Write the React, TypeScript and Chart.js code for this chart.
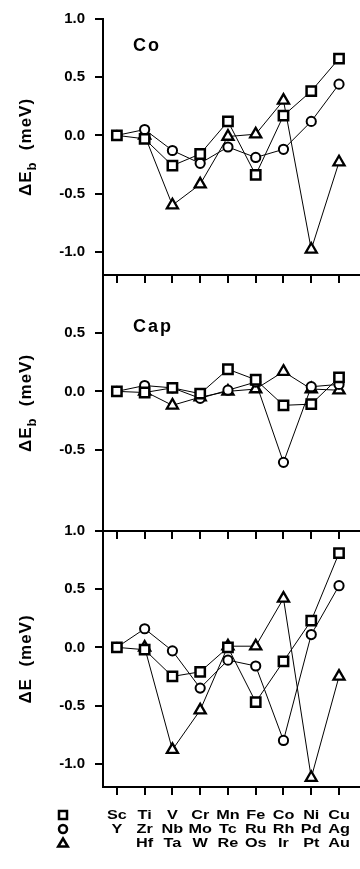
import React, { useEffect, useRef } from "react";
import { Chart, registerables } from "chart.js";
Chart.register(...registerables);

// categories (row 1 of the x labels) and the other two rows
const categories = ["Sc", "Ti", "V", "Cr", "Mn", "Fe", "Co", "Ni", "Cu"];
const row2Labels = ["Y", "Zr", "Nb", "Mo", "Tc", "Ru", "Rh", "Pd", "Ag"];
const row3Labels = ["", "Hf", "Ta", "W", "Re", "Os", "Ir", "Pt", "Au"];

// Panel 1: Co
const coSquare = [0, -0.03, -0.26, -0.16, 0.12, -0.34, 0.17, 0.38, 0.66];
const coCircle = [0, 0.05, -0.13, -0.24, -0.1, -0.19, -0.12, 0.12, 0.44];
const coTriangle = [null, 0.0, -0.6, -0.42, -0.01, 0.01, 0.3, -0.98, -0.23];

// Panel 2: Cap
const capSquare = [0, -0.01, 0.03, -0.02, 0.19, 0.1, -0.12, -0.11, 0.12];
const capCircle = [0, 0.05, 0.03, -0.06, 0.01, 0.08, -0.61, 0.04, 0.06];
const capTriangle = [null, 0.0, -0.12, -0.05, 0.0, 0.02, 0.17, 0.02, 0.01];

// Panel 3: total
const totSquare = [0, -0.02, -0.25, -0.21, 0.0, -0.47, -0.12, 0.23, 0.81];
const totCircle = [0, 0.16, -0.03, -0.35, -0.11, -0.16, -0.8, 0.11, 0.53];
const totTriangle = [null, 0.0, -0.88, -0.54, 0.01, 0.01, 0.42, -1.12, -0.25];

const yTicks1 = [-1, -0.5, 0, 0.5, 1];
const yTicks2 = [-0.5, 0, 0.5];
const yTicks3 = [-1, -0.5, 0, 0.5, 1];
const yMin = -1.2;
const yMax = 1.0;
const panelLabels = ["Co", "Cap", ""];
const panelTitles = [
  { main: "\u0394E", sub: "b", rest: "  (meV)" },
  { main: "\u0394E", sub: "b", rest: "  (meV)" },
  { main: "\u0394E", sub: "", rest: "  (meV)" },
];

const FONT = '"Liberation Sans", Arial, Helvetica, sans-serif';

function mkDataset(data: (number | null)[], style: string, axis: string) {
  const base: any = {
    data,
    yAxisID: axis,
    xAxisID: "x",
    borderColor: "#000",
    borderWidth: 1,
    backgroundColor: "#fff",
    pointBackgroundColor: "#fff",
    pointBorderColor: "#000",
    fill: false,
    tension: 0,
    pointStyle: style,
  };
  if (style === "rect") {
    base.pointRadius = 6.6;
    base.pointBorderWidth = 2.5;
  } else if (style === "circle") {
    base.pointRadius = 4.6;
    base.pointBorderWidth = 2;
  } else {
    base.pointRadius = 6.4;
    base.pointBorderWidth = 2.3;
  }
  return base;
}

function yScale(ticks: number[], weight: number) {
  return {
    type: "linear",
    position: "left",
    stack: "panels",
    stackWeight: 1,
    weight,
    min: yMin,
    max: yMax,
    afterBuildTicks: (s: any) => {
      s.ticks = ticks.map((v) => ({ value: v }));
    },
    afterFit: (s: any) => {
      s.width = 103;
    },
    grid: {
      drawOnChartArea: false,
      drawTicks: true,
      tickLength: 8,
      color: "#000",
      lineWidth: 2,
    },
    border: { display: true, color: "#000", width: 2 },
    ticks: {
      color: "#000",
      font: { family: FONT, size: 15, weight: "bold" },
      padding: 10,
      callback: (v: any) => Number(v).toFixed(1),
    },
  };
}

const decorPlugin = {
  id: "decor",
  beforeDatasetsDraw(chart: any) {
    const ctx = chart.ctx;
    const xs = chart.scales.x;
    const left = chart.chartArea.left;
    const right = chart.width;
    ctx.save();
    ctx.strokeStyle = "#000";
    ctx.lineWidth = 2;
    ["y1", "y2", "y3"].forEach((id) => {
      const s = chart.scales[id];
      const yb = Math.round(s.bottom);
      ctx.beginPath();
      ctx.moveTo(left - 1, yb);
      ctx.lineTo(right, yb);
      ctx.stroke();
      categories.forEach((_, i) => {
        const x = Math.round(xs.getPixelForValue(i));
        ctx.beginPath();
        ctx.moveTo(x, yb);
        ctx.lineTo(x, yb + 8);
        ctx.stroke();
      });
    });
    ctx.restore();
  },
  afterDraw(chart: any) {
    const ctx = chart.ctx;
    const xs = chart.scales.x;
    ctx.save();
    ctx.fillStyle = "#000";
    ctx.strokeStyle = "#000";

    ["y1", "y2", "y3"].forEach((id, i) => {
      const s = chart.scales[id];
      const lbl = panelLabels[i];
      if (lbl) {
        ctx.font = `bold 18px ${FONT}`;
        (ctx as any).letterSpacing = "2px";
        ctx.textAlign = "left";
        ctx.textBaseline = "middle";
        const y = i === 0 ? s.top + 27 : s.top + 52;
        ctx.fillText(lbl, 133, y);
      }
      // y title
      const t = panelTitles[i];
      const yc = (s.top + s.bottom) / 2;
      ctx.save();
      ctx.translate(31, yc);
      ctx.rotate(-Math.PI / 2);
      ctx.textBaseline = "alphabetic";
      ctx.textAlign = "left";
      (ctx as any).letterSpacing = "1px";
      const big = `bold 17px ${FONT}`;
      const small = `bold 13px ${FONT}`;
      ctx.font = big;
      const w1 = ctx.measureText(t.main).width;
      const w3 = ctx.measureText(t.rest).width;
      ctx.font = small;
      const w2 = t.sub ? ctx.measureText(t.sub).width : 0;
      const total = w1 + w2 + w3;
      let u = -total / 2;
      ctx.font = big;
      ctx.fillText(t.main, u, 0);
      u += w1;
      if (t.sub) {
        ctx.font = small;
        ctx.fillText(t.sub, u, 5);
        u += w2;
      }
      ctx.font = big;
      ctx.fillText(t.rest, u, 0);
      ctx.restore();
    });

    // category labels, 3 rows
    const rows = [categories, row2Labels, row3Labels];
    const rowY = [815, 829, 843];
    ctx.font = `bold 13px ${FONT}`;
    (ctx as any).letterSpacing = "0px";
    ctx.textAlign = "center";
    ctx.textBaseline = "middle";
    rows.forEach((row, r) => {
      row.forEach((lbl, i) => {
        if (!lbl) return;
        const x = xs.getPixelForValue(i);
        ctx.save();
        ctx.translate(x, rowY[r]);
        ctx.scale(1.25, 1);
        ctx.fillText(lbl, 0, 0);
        ctx.restore();
      });
    });

    // legend markers
    const mx = 63;
    ctx.lineWidth = 2.5;
    ctx.fillStyle = "#fff";
    ctx.beginPath();
    ctx.rect(mx - 4, rowY[0] - 4, 8, 8);
    ctx.fill();
    ctx.stroke();
    ctx.beginPath();
    ctx.arc(mx, rowY[1], 4, 0, Math.PI * 2);
    ctx.fill();
    ctx.stroke();
    ctx.beginPath();
    ctx.moveTo(mx, rowY[2] - 4.5);
    ctx.lineTo(mx + 4.8, rowY[2] + 3.5);
    ctx.lineTo(mx - 4.8, rowY[2] + 3.5);
    ctx.closePath();
    ctx.fill();
    ctx.stroke();
    ctx.restore();
  },
};

export default function App() {
  const ref = useRef<HTMLCanvasElement | null>(null);
  useEffect(() => {
    if (!ref.current) return;
    const chart = new Chart(ref.current, {
      type: "line",
      data: {
        labels: categories,
        datasets: [
          mkDataset(coSquare, "rect", "y1"),
          mkDataset(coCircle, "circle", "y1"),
          mkDataset(coTriangle, "triangle", "y1"),
          mkDataset(capSquare, "rect", "y2"),
          mkDataset(capCircle, "circle", "y2"),
          mkDataset(capTriangle, "triangle", "y2"),
          mkDataset(totSquare, "rect", "y3"),
          mkDataset(totCircle, "circle", "y3"),
          mkDataset(totTriangle, "triangle", "y3"),
        ],
      },
      options: {
        responsive: false,
        animation: false,
        devicePixelRatio: 1,
        layout: { padding: { top: 13, bottom: 82, left: 0, right: 1 } },
        plugins: {
          legend: { display: false },
          tooltip: { enabled: false },
        },
        scales: {
          x: { type: "category", offset: true, display: false },
          y1: yScale(yTicks1, 3),
          y2: yScale(yTicks2, 2),
          y3: yScale(yTicks3, 1),
        } as any,
      } as any,
      plugins: [decorPlugin],
    });
    return () => chart.destroy();
  }, []);
  return (
    <div
      style={{
        position: "fixed",
        left: 0,
        top: 0,
        width: 360,
        height: 869,
        overflow: "hidden",
        background: "#fff",
      }}
    >
      <canvas ref={ref} width={362} height={869} style={{ display: "block" }} />
    </div>
  );
}
